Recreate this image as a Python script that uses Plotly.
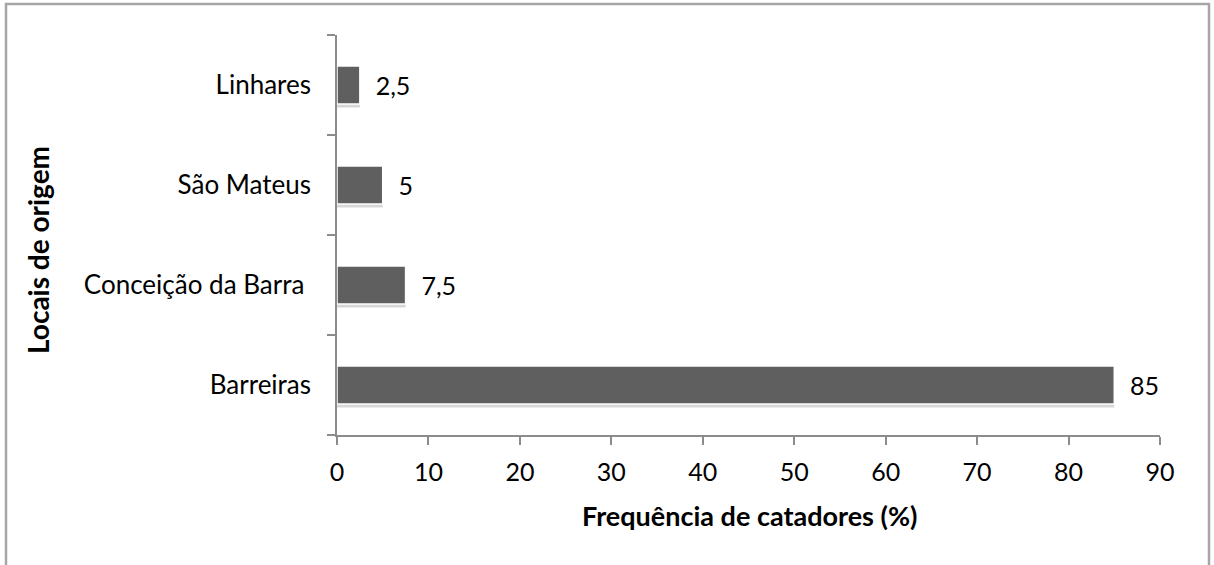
import plotly.graph_objects as go

categories = ["Barreiras", "Conceição da Barra ", "São Mateus", "Linhares"]
values = [85, 7.5, 5, 2.5]
value_labels = ["85", "7,5", "5", "2,5"]
x_ticks = [0, 10, 20, 30, 40, 50, 60, 70, 80, 90]

FONT = "Lato, Open Sans, sans-serif"
BAR_W = 0.38

fig = go.Figure()
# soft drop shadow under each bar
fig.add_trace(go.Bar(
    y=categories, x=values, orientation="h",
    marker=dict(color="rgba(0,0,0,0.16)", line=dict(width=0)),
    width=BAR_W, offset=-BAR_W / 2 - 0.035,
    hoverinfo="skip",
))
fig.add_trace(go.Bar(
    y=categories, x=values, orientation="h",
    marker=dict(color="#5f5f5f", line=dict(color="white", width=1.5)),
    width=BAR_W, offset=-BAR_W / 2,
    text=["  " + t for t in value_labels], textposition="outside",
    textfont=dict(family=FONT, size=25, color="black"),
    cliponaxis=False,
))

W, H = 1214, 565
L, T = 337, 35
pw, ph = 823, 400
R, B = W - L - pw, H - T - ph

def px_x(x):
    return (x - L) / pw

def px_y(y):
    return (T + ph - y) / ph

fig.update_layout(
    width=W, height=H,
    margin=dict(l=L, r=R, t=T, b=B, autoexpand=False),
    paper_bgcolor="white", plot_bgcolor="white",
    showlegend=False, barmode="overlay",
    font=dict(family=FONT, color="black"),
    xaxis=dict(
        range=[0, 90], tickvals=x_ticks, ticktext=[str(v) for v in x_ticks],
        showgrid=False, zeroline=False, automargin=False,
        showline=True, linecolor="#8c8c8c", linewidth=1.5,
        ticks="outside", ticklen=8, tickcolor="#8c8c8c", tickwidth=1.5,
        ticklabelstandoff=6,
        tickfont=dict(family=FONT, size=25, color="black"),
    ),
    yaxis=dict(
        categoryorder="array", categoryarray=categories,
        showgrid=False, zeroline=False, automargin=False,
        showline=True, linecolor="#8c8c8c", linewidth=1.5,
        ticks="outside", ticklen=8, tickcolor="#8c8c8c", tickwidth=1.5,
        tickson="boundaries",
        ticklabelstandoff=19,
        tickfont=dict(family=FONT, size=26, color="black"),
    ),
)

fig.add_annotation(
    text="<b>Frequência de catadores (%)</b>", xref="paper", yref="paper",
    x=px_x(750), y=px_y(515), showarrow=False, xanchor="center", yanchor="middle",
    font=dict(family=FONT, size=27, color="black"),
)
fig.add_annotation(
    text="<b>Locais de origem</b>", xref="paper", yref="paper",
    x=px_x(38), y=px_y(250), showarrow=False, xanchor="center", yanchor="middle",
    textangle=-90, font=dict(family=FONT, size=28, color="black"),
)

# outer chart border (Excel chart area frame)
fig.add_shape(
    type="rect", xref="paper", yref="paper",
    x0=px_x(6), x1=px_x(1209),
    y0=px_y(590), y1=px_y(4),
    line=dict(color="#a6a6a6", width=2.5), fillcolor="rgba(0,0,0,0)", layer="below",
)

fig.write_html(
    "out.html",
    config={"displayModeBar": False},
    post_script="document.body.style.margin='0';document.body.style.overflow='hidden';",
)
